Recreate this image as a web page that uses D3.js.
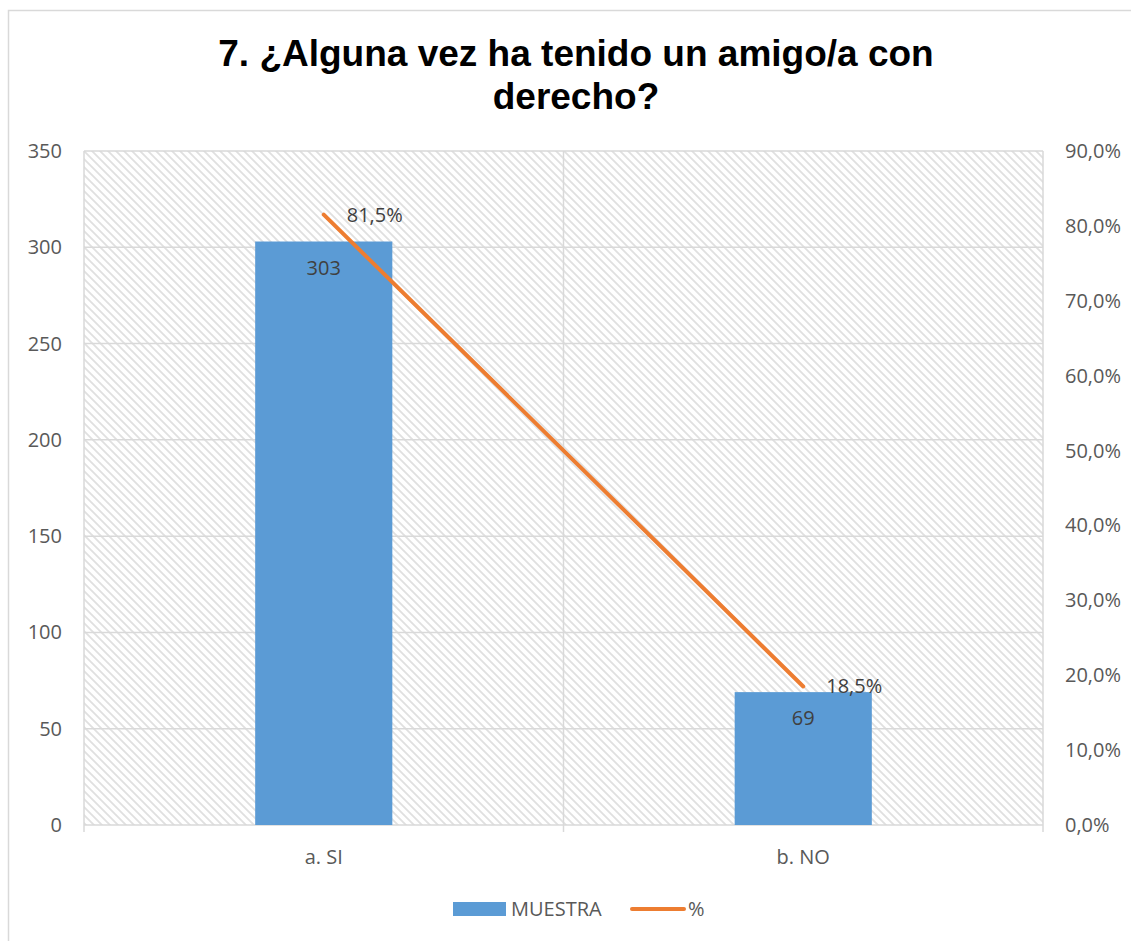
<!DOCTYPE html>
<html>
<head>
<meta charset="utf-8">
<script src="https://cdn.jsdelivr.net/npm/d3@7"></script>
<style>
	body { margin: 0; background: #fff; }
	text { font-family: "Open Sans", sans-serif; }
</style>
</head>
<body>
<div id="chart-area"></div>
<script>
const svgWidth = 1131,
			svgHeight = 941;
const margin = {left: 84, right: 88, top: 151, bottom: 116};

const areaWidth = svgWidth - margin.left - margin.right;
const areaHeight = svgHeight - margin.top - margin.bottom;

// data
const categories = ["a. SI", "b. NO"];
const muestra = [303, 69];
const pct = [81.5, 18.5];
const leftTicks = [0, 50, 100, 150, 200, 250, 300, 350];
const rightTicks = [0, 10, 20, 30, 40, 50, 60, 70, 80, 90];
const titleLines = ["7. ¿Alguna vez ha tenido un amigo/a con", "derecho?"];

const fmtPct = d => d3.format(".1f")(d).replace(".", ",") + "%";

const svg = d3.select("#chart-area")
	.append("svg")
	.attr("width", svgWidth)
	.attr("height", svgHeight);

// hatch pattern for plot background
const defs = svg.append("defs");
const pattern = defs.append("pattern")
	.attr("id", "hatch")
	.attr("patternUnits", "userSpaceOnUse")
	.attr("width", 8)
	.attr("height", 8);
pattern.append("rect").attr("width", 8).attr("height", 8).attr("fill", "#fff");
pattern.append("path")
	.attr("d", "M-2,-2 L10,10 M-2,6 L2,10 M6,-2 L10,2")
	.attr("stroke", "#e0e0e0")
	.attr("stroke-width", 1.8);

// outer chart border
svg.append("rect")
	.attr("x", 8.5).attr("y", 10.5)
	.attr("width", 1140).attr("height", 960)
	.attr("fill", "none")
	.attr("stroke", "#d9d9d9")
	.attr("stroke-width", 1.5);

// title
svg.append("text")
	.attr("x", 576)
	.attr("text-anchor", "middle")
	.style("font-family", "'Liberation Sans', Arial, sans-serif")
	.attr("font-size", "37px")
	.attr("font-weight", "bold")
	.attr("fill", "#000")
	.selectAll("tspan")
	.data(titleLines)
	.enter().append("tspan")
	.attr("x", 576)
	.attr("y", (d, i) => 66 + i * 43)
	.text(d => d);

const area = svg.append("g")
	.attr("transform", `translate(${margin.left}, ${margin.top})`);

const x = d3.scaleBand().domain(categories).range([0, areaWidth]);
const y = d3.scaleLinear().domain([0, 350]).range([areaHeight, 0]);
const y2 = d3.scaleLinear().domain([0, 90]).range([areaHeight, 0]);

area.append("rect")
	.attr("width", areaWidth)
	.attr("height", areaHeight)
	.attr("fill", "url(#hatch)");

// horizontal gridlines
area.selectAll(".hgrid")
	.data(leftTicks)
	.enter().append("line")
	.attr("class", "hgrid")
	.attr("x1", 0).attr("x2", areaWidth)
	.attr("y1", d => y(d)).attr("y2", d => y(d))
	.attr("stroke", "#d9d9d9")
	.attr("stroke-width", 1.5);

// vertical gridlines at category boundaries
const bounds = [0].concat(categories.map(c => x(c) + x.bandwidth()));
area.selectAll(".vgrid")
	.data(bounds)
	.enter().append("line")
	.attr("class", "vgrid")
	.attr("x1", d => d).attr("x2", d => d)
	.attr("y1", 0).attr("y2", areaHeight + 7)
	.attr("stroke", "#d9d9d9")
	.attr("stroke-width", 1.5);

// left axis labels
area.selectAll(".ylab")
	.data(leftTicks)
	.enter().append("text")
	.attr("class", "ylab")
	.attr("x", -22)
	.attr("y", d => y(d) + 7)
	.attr("text-anchor", "end")
	.attr("font-size", "20px")
	.attr("fill", "#595959")
	.text(d => d);

// right axis labels
area.selectAll(".y2lab")
	.data(rightTicks)
	.enter().append("text")
	.attr("class", "y2lab")
	.attr("x", areaWidth + 22)
	.attr("y", d => y2(d) + 7)
	.attr("text-anchor", "start")
	.attr("font-size", "20px")
	.attr("fill", "#595959")
	.text(d => fmtPct(d));

// category labels
area.selectAll(".xlab")
	.data(categories)
	.enter().append("text")
	.attr("class", "xlab")
	.attr("x", d => x(d) + x.bandwidth() / 2)
	.attr("y", areaHeight + 39)
	.attr("text-anchor", "middle")
	.attr("font-size", "20px")
	.attr("fill", "#595959")
	.text(d => d);

// bars
const barW = x.bandwidth() * 0.286;
area.selectAll(".bar")
	.data(muestra)
	.enter().append("rect")
	.attr("class", "bar")
	.attr("x", (d, i) => x(categories[i]) + x.bandwidth() / 2 - barW / 2)
	.attr("y", d => y(d))
	.attr("width", barW)
	.attr("height", d => areaHeight - y(d))
	.attr("fill", "#5b9bd5");

area.selectAll(".barlab")
	.data(muestra)
	.enter().append("text")
	.attr("class", "barlab")
	.attr("x", (d, i) => x(categories[i]) + x.bandwidth() / 2)
	.attr("y", d => y(d) + 33)
	.attr("text-anchor", "middle")
	.attr("font-size", "20px")
	.attr("fill", "#404040")
	.text(d => d);

// line
const line = d3.line()
	.x((d, i) => x(categories[i]) + x.bandwidth() / 2)
	.y(d => y2(d));

area.append("path")
	.attr("fill", "none")
	.attr("stroke", "#ed7d31")
	.attr("stroke-width", 4)
	.attr("stroke-linecap", "round")
	.attr("d", line(pct));

area.selectAll(".linelab")
	.data(pct)
	.enter().append("text")
	.attr("class", "linelab")
	.attr("x", (d, i) => x(categories[i]) + x.bandwidth() / 2 + 23)
	.attr("y", d => y2(d) + 7)
	.attr("font-size", "20px")
	.attr("fill", "#404040")
	.text(d => fmtPct(d));

// legend
const legend = svg.append("g");
legend.append("rect")
	.attr("x", 453).attr("y", 902)
	.attr("width", 53).attr("height", 14)
	.attr("fill", "#5b9bd5");
legend.append("text")
	.attr("x", 511).attr("y", 916)
	.attr("font-size", "20px")
	.attr("fill", "#595959")
	.text("MUESTRA");
legend.append("line")
	.attr("x1", 632).attr("x2", 684)
	.attr("y1", 909).attr("y2", 909)
	.attr("stroke", "#ed7d31")
	.attr("stroke-width", 4)
	.attr("stroke-linecap", "round");
legend.append("text")
	.attr("x", 688).attr("y", 916)
	.attr("font-size", "20px")
	.attr("fill", "#595959")
	.text("%");
</script>
</body>
</html>
